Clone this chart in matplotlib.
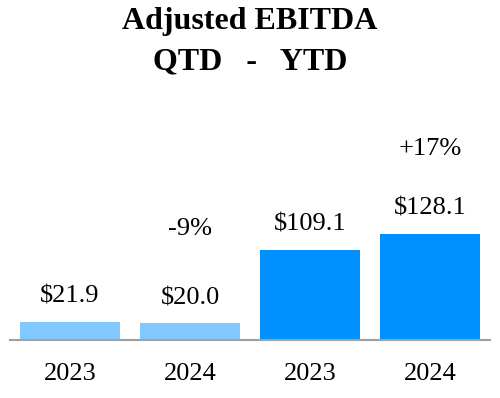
import matplotlib
matplotlib.use("Agg")
import matplotlib.pyplot as plt

years = ["2023", "2024", "2023", "2024"]
values = [21.9, 20.0, 109.1, 128.1]
value_labels = ["$21.9", "$20.0", "$109.1", "$128.1"]
changes = {1: "-9%", 3: "+17%"}
colors = ["#80C8FF", "#80C8FF", "#0091FF", "#0091FF"]

plt.rcParams["font.family"] = ["Liberation Serif", "DejaVu Serif"]

fig = plt.figure(figsize=(5.0, 3.98), dpi=100)
ax = fig.add_axes([0.02, 1 - 340 / 398, 0.96, 210 / 398])

x = list(range(len(values)))
ax.bar(x, values, width=100 / 120, color=colors)
ax.set_xlim(-0.5, 3.5)
ax.set_ylim(0, 210 / 0.827)

# offsets of the percent-change labels (points above bar top)
change_offset = {1: 68, 3: 61.5}

for i, (v, lab) in enumerate(zip(values, value_labels)):
    ax.annotate(lab, (i, v), xytext=(0, 18.3), textcoords="offset points",
                ha="center", va="center", fontsize=19)
    if i in changes:
        ax.annotate(changes[i], (i, v), xytext=(0, change_offset[i]),
                    textcoords="offset points",
                    ha="center", va="center", fontsize=19)

for i, yr in enumerate(years):
    ax.annotate(yr, (i, 0), xytext=(0, -24.5), textcoords="offset points",
                ha="center", va="center", fontsize=19)

for s in ["top", "right", "left"]:
    ax.spines[s].set_visible(False)
ax.spines["bottom"].set_color("#A0A0A0")
ax.spines["bottom"].set_linewidth(1.5)
ax.set_xticks([])
ax.set_yticks([])

fig.text(0.5, 1 - 22 / 398, "Adjusted EBITDA", ha="center", va="center",
         fontsize=23, fontweight="bold")
fig.text(0.5, 1 - 62 / 398, "QTD   -   YTD", ha="center", va="center",
         fontsize=23, fontweight="bold")

fig.savefig("out.png", dpi=100)
